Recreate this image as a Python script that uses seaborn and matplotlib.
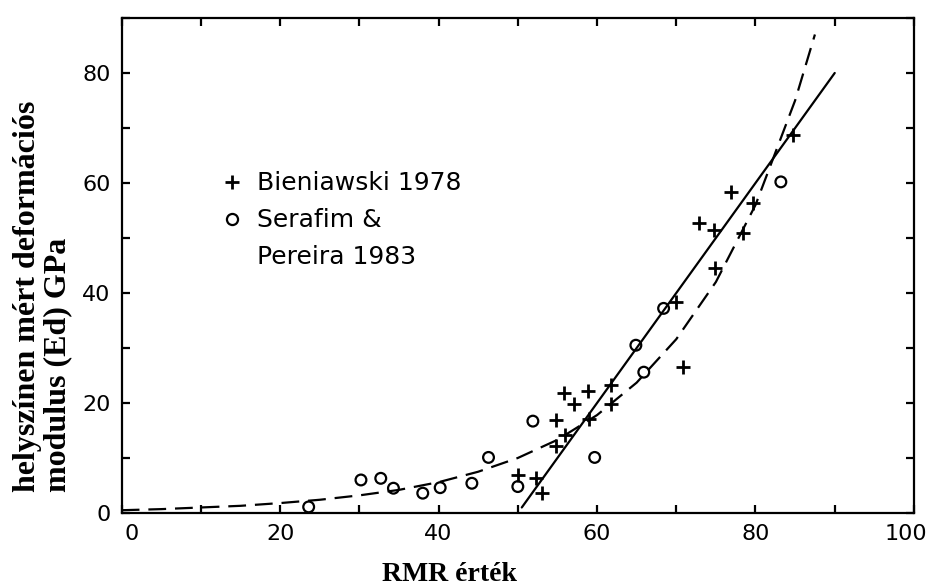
import matplotlib
matplotlib.use("Agg")
import matplotlib.pyplot as plt
from matplotlib.lines import Line2D
from matplotlib.ticker import MultipleLocator
from matplotlib.transforms import ScaledTranslation
import seaborn as sns

# Bieniawski 1978 measurements (+)
bien_rmr = [50.0, 52.3, 53.1, 54.8, 54.8, 56.0, 55.8, 57.1, 58.8, 59.0, 61.7, 61.7,
            70.0, 70.9, 72.9, 74.8, 74.9, 76.9, 78.4, 79.7, 84.7]
bien_ed = [6.9, 6.3, 3.6, 16.9, 12.2, 14.2, 21.8, 19.9, 22.1, 17.0, 23.3, 19.9,
           38.4, 26.5, 52.8, 51.5, 44.5, 58.4, 50.9, 56.3, 68.7]

# Serafim & Pereira 1983 measurements (o)
sp_rmr = [23.6, 30.2, 32.7, 34.3, 38.0, 40.2, 44.2, 46.3, 50.0, 51.9, 59.7,
          64.9, 65.9, 68.4, 83.2]
sp_ed = [1.1, 6.0, 6.3, 4.5, 3.6, 4.6, 5.4, 10.1, 4.8, 16.7, 10.1,
         30.5, 25.6, 37.2, 60.2]

# Solid fitted line (Bieniawski)
bien_fit_rmr = [50.5, 90.0]
bien_fit_ed = [1.0, 80.0]

# Dashed fitted curve (Serafim & Pereira)
sp_fit_rmr = [0, 5, 10, 15, 20, 25, 30, 35, 40, 45, 50, 55, 60, 65, 70, 75, 80, 85, 87.5]
sp_fit_ed = [0.5, 0.7, 1.0, 1.3, 1.8, 2.4, 3.2, 4.2, 5.6, 7.5, 10.0, 13.3, 17.8,
             23.7, 31.6, 42.0, 56.0, 75.0, 87.0]

x_ticks = [0, 20, 40, 60, 80, 100]
y_ticks = [0, 20, 40, 60, 80]
legend_labels = ["Bieniawski 1978", "Serafim &", "Pereira 1983"]
x_label = "RMR érték"
y_label = "helyszínen mért deformációs\nmodulus (Ed) GPa"

sns.set_style("ticks")
plt.rcParams["font.family"] = ["DejaVu Sans"]
plt.rcParams["text.color"] = "black"
plt.rcParams["axes.labelcolor"] = "black"
plt.rcParams["xtick.color"] = "black"
plt.rcParams["ytick.color"] = "black"

fig = plt.figure(figsize=(9.29, 5.88), dpi=100)
fig.patch.set_facecolor("white")
ax = fig.add_axes([0.1310, 0.1276, 0.8528, 0.8418])

sns.lineplot(x=sp_fit_rmr, y=sp_fit_ed, ax=ax, color="black", linewidth=1.6,
             linestyle=(0, (8, 4)), estimator=None, sort=False)
sns.lineplot(x=bien_fit_rmr, y=bien_fit_ed, ax=ax, color="black", linewidth=1.6,
             estimator=None, sort=False)
sns.scatterplot(x=bien_rmr, y=bien_ed, ax=ax, marker="+", s=95, color="black",
                linewidth=2.0, zorder=3)
sns.scatterplot(x=sp_rmr, y=sp_ed, ax=ax, marker="o", s=60, color="black",
                facecolor="none", edgecolor="black", linewidth=1.6, zorder=3)

ax.set_xlim(0, 100)
ax.set_ylim(0, 90)
ax.set_xticks(x_ticks)
ax.set_yticks(y_ticks)
ax.xaxis.set_minor_locator(MultipleLocator(10))
ax.yaxis.set_minor_locator(MultipleLocator(10))
ax.tick_params(which="both", direction="in", top=True, right=True,
               length=6, width=1.6, color="black")
ax.tick_params(which="major", labelsize=16, pad=8, labelcolor="black")
for sp in ax.spines.values():
    sp.set_linewidth(1.6)
    sp.set_color("black")

# keep the end labels inside the frame as in the reference
xlabels = ax.get_xticklabels()
xlabels[0].set_transform(xlabels[0].get_transform() +
                         ScaledTranslation(10 / 100, 0, fig.dpi_scale_trans))
xlabels[-1].set_transform(xlabels[-1].get_transform() +
                          ScaledTranslation(-8 / 100, 0, fig.dpi_scale_trans))

handles = [
    Line2D([], [], ls="none", marker="+", color="black", ms=10, mew=2.0),
    Line2D([], [], ls="none", marker="o", mfc="none", mec="black", ms=8, mew=1.6),
    Line2D([], [], ls="none", marker=""),
]
ax.legend(handles, legend_labels, loc="upper left", bbox_to_anchor=(0.1230, 0.690),
          frameon=False, fontsize=18, handlelength=1.0, handletextpad=0.5,
          labelspacing=0.52, borderpad=0, borderaxespad=0)

ax.set_xlabel(x_label, fontfamily="Liberation Serif", fontweight="bold", fontsize=20,
              va="baseline")
ax.xaxis.set_label_coords(0.414, -0.1374)
ax.set_ylabel(y_label, fontfamily="Liberation Serif", fontweight="bold", fontsize=23,
              multialignment="left", linespacing=1.05)
ax.yaxis.set_label_coords(-0.0627, 0.438)

fig.savefig("out.png", dpi=100, facecolor="white")
